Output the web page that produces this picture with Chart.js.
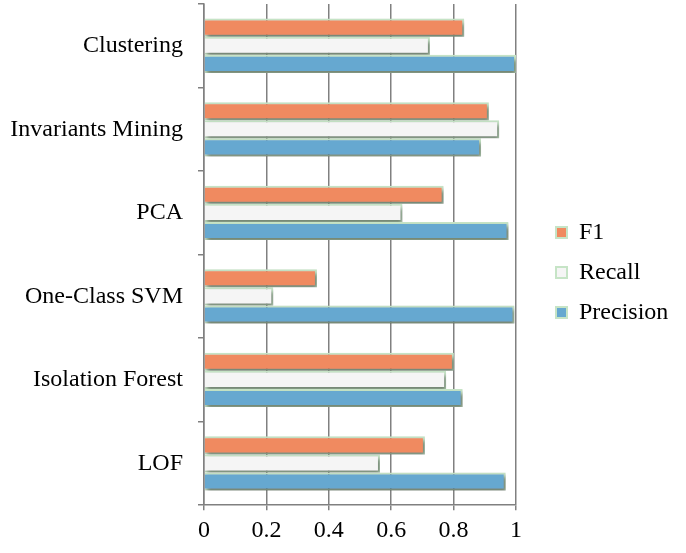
<!DOCTYPE html>
<html>
<head>
<meta charset="utf-8">
<script src="https://cdn.jsdelivr.net/npm/chart.js@4"></script>
<style>
html,body{margin:0;padding:0;background:#fff;}
#wrap{width:686px;height:553px;}
</style>
</head>
<body>
<div id="wrap"><canvas id="c" width="686" height="553"></canvas></div>
<script>
const categories = ["Clustering", "Invariants Mining", "PCA", "One-Class SVM", "Isolation Forest", "LOF"];
const f1Values = [0.834, 0.913, 0.768, 0.362, 0.801, 0.708];
const recallValues = [0.724, 0.946, 0.636, 0.222, 0.776, 0.564];
const precisionValues = [1.0, 0.888, 0.976, 0.995, 0.829, 0.967];
const xTicks = [0, 0.2, 0.4, 0.6, 0.8, 1];

const FONT = "'Liberation Serif', 'Times New Roman', serif";
const border = '#c6e4c6';

const shadowPlugin = {
  id: 'barShadow',
  beforeDatasetsDraw(chart) {
    const ctx = chart.ctx;
    ctx.save();
    ctx.shadowColor = 'rgba(0,0,0,0.45)';
    ctx.shadowBlur = 4;
    ctx.shadowOffsetX = 2;
    ctx.shadowOffsetY = 3;
  },
  afterDatasetsDraw(chart) {
    chart.ctx.restore();
  }
};

const legendShift = {
  id: 'legendShift',
  afterLayout(chart) {
    const lg = chart.legend;
    if (!lg) return;
    lg.left += 24; lg.right += 24;
    lg.top -= 5; lg.bottom -= 5;
  }
};

new Chart(document.getElementById('c'), {
  type: 'bar',
  data: {
    labels: categories,
    datasets: [
      { label: 'F1', data: f1Values, backgroundColor: '#f08a60', borderColor: border, borderWidth: 2 },
      { label: 'Recall', data: recallValues, backgroundColor: '#f5f5f5', borderColor: border, borderWidth: 2 },
      { label: 'Precision', data: precisionValues, backgroundColor: '#66a8d0', borderColor: border, borderWidth: 2 }
    ]
  },
  options: {
    indexAxis: 'y',
    responsive: false,
    animation: false,
    devicePixelRatio: 1,
    layout: { padding: { top: 4, bottom: 2, left: 0, right: 0 } },
    datasets: { bar: { categoryPercentage: 0.65, barPercentage: 1.0 } },
    scales: {
      x: {
        min: 0, max: 1,
        afterBuildTicks(axis) { axis.ticks = xTicks.map(v => ({ value: v })); },
        afterFit(scale) { scale.paddingRight = 170; },
        grid: { color: '#808080', lineWidth: 1.5, tickLength: 5, drawTicks: true },
        border: { display: true, color: '#808080', width: 1.5 },
        ticks: { color: '#000', font: { family: FONT, size: 24 }, padding: 6, maxRotation: 0,
                 callback: (v) => String(v) }
      },
      y: {
        afterFit(scale) { scale.width = 204; scale.paddingTop = 0; scale.paddingBottom = 0; },
        grid: { display: true, drawOnChartArea: false, offset: true, color: '#808080', lineWidth: 1.5, tickLength: 6 },
        border: { display: true, color: '#808080', width: 1.5 },
        ticks: { color: '#000', font: { family: FONT, size: 24 }, padding: 15 }
      }
    },
    plugins: {
      legend: {
        position: 'right',
        labels: {
          color: '#000',
          font: { family: FONT, size: 24 },
          boxWidth: 11, boxHeight: 11, padding: 16
        }
      },
      tooltip: { enabled: false }
    }
  },
  plugins: [shadowPlugin, legendShift]
});
</script>
</body>
</html>
